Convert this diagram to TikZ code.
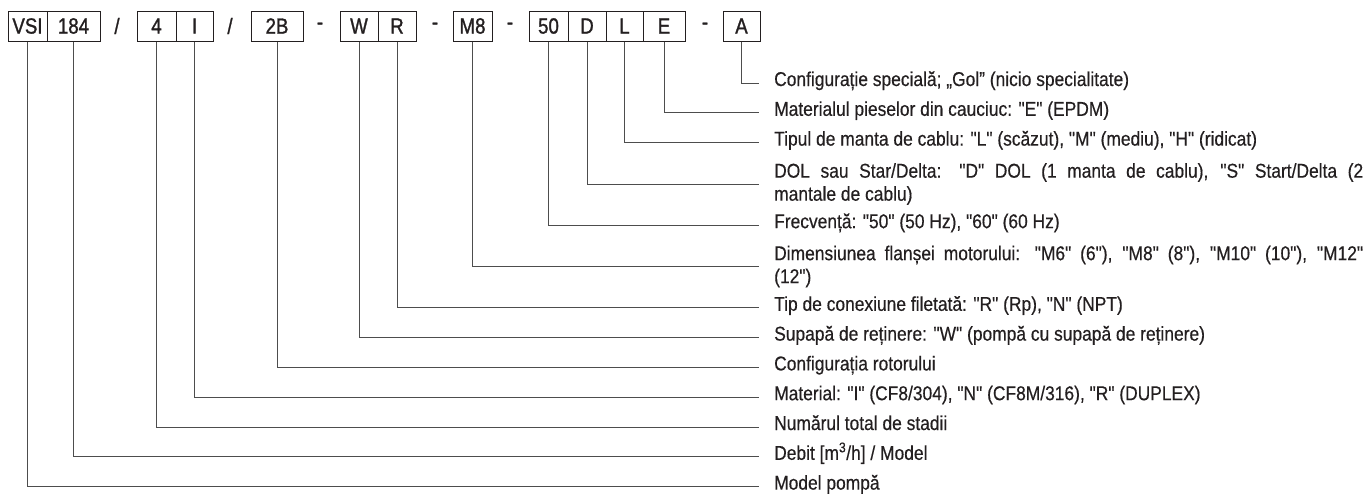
\documentclass[tikz,border=0pt]{standalone}
\usepackage{fontspec}
\setmainfont{Liberation Sans}[Ligatures=TeXOff, FakeStretch=0.87, FakeBold=0.4]
\newfontfamily\codefont{Liberation Sans}[Ligatures=TeXOff, FakeStretch=0.85, FakeBold=1.2]
\definecolor{ink}{HTML}{231F20}
\definecolor{linec}{HTML}{4D4D4D}
\tikzset{
  box/.style={draw=ink, line width=1pt, inner sep=0pt, minimum height=30pt, text=ink, font=\codefont\fontsize{22}{24}\selectfont},
  sepmark/.style={inner sep=0pt, text=ink, font=\codefont\fontsize{22}{24}\selectfont},
  conn/.style={draw=linec, line width=1pt},
  lab/.style={anchor=west, inner sep=0pt, text=ink, font=\fontsize{20}{23}\selectfont, text height=0.8em, text depth=0.2em},
  labtwo/.style={anchor=west, inner sep=0pt, text=ink, font=\fontsize{20}{23}\selectfont, text width=589pt, align=justify}
}
\begin{document}
\begin{tikzpicture}[x=1pt,y=-1pt]
\useasboundingbox (0,0) rectangle (1366,499);
% code boxes
\node[box, minimum width=39pt] (bVSI) at (27.5,26) {VSI};
\node[box, minimum width=53pt] (b184) at (73.5,26) {184};
\node[sepmark] (s1) at (117,26) {/};
\node[box, minimum width=39pt] (b4) at (156.5,26) {4};
\node[box, minimum width=37pt] (bI) at (194.5,26) {I};
\node[sepmark] (s2) at (230,26) {/};
\node[box, minimum width=52pt] (b2B) at (277,26) {2B};
\node[sepmark] (s3) at (320,26) {-};
\node[box, minimum width=38pt] (bW) at (359,26) {W};
\node[box, minimum width=38pt] (bR) at (397,26) {R};
\node[sepmark] (s4) at (435,26) {-};
\node[box, minimum width=39pt] (bM8) at (472.5,26) {M8};
\node[sepmark] (s5) at (510,26) {-};
\node[box, minimum width=39pt] (b50) at (548.5,26) {50};
\node[box, minimum width=38pt] (bD) at (587,26) {D};
\node[box, minimum width=37pt] (bL) at (624.5,26) {L};
\node[box, minimum width=42pt] (bE) at (664,26) {E};
\node[sepmark] (s6) at (705,26) {-};
\node[box, minimum width=37pt] (bA) at (741.5,26) {A};
% labels
\node[lab] (lA) at (774,83) {Configurație specială; „Gol” (nicio specialitate)};
\node[lab] (lE) at (774,112.8) {Materialul pieselor din cauciuc: "E" (EPDM)};
\node[lab] (lL) at (774,142.6) {Tipul de manta de cablu: "L" (scăzut), "M" (mediu), "H" (ridicat)};
\node[labtwo] (lD) at (774,184) {DOL sau Star/Delta: "D" DOL (1 manta de cablu), "S" Start/Delta (2\linebreak mantale de cablu)};
\node[lab] (l50) at (774,225.2) {Frecvență: "50" (50 Hz), "60" (60 Hz)};
\node[labtwo] (lM8) at (774,266.5) {Dimensiunea flanșei motorului: "M6" (6"), "M8" (8"), "M10" (10"), "M12"\linebreak (12")};
\node[lab] (lR) at (774,307.8) {Tip de conexiune filetată: "R" (Rp), "N" (NPT)};
\node[lab] (lW) at (774,337.6) {Supapă de reținere: "W" (pompă cu supapă de reținere)};
\node[lab] (l2B) at (774,367.4) {Configurația rotorului};
\node[lab] (lI) at (774,397.2) {Material: "I" (CF8/304), "N" (CF8M/316), "R" (DUPLEX)};
\node[lab] (l4) at (774,427) {Numărul total de stadii};
\node[lab] (l184) at (774,456.8) {Debit [m\textsuperscript{3}/h] / Model};
\node[lab] (lVSI) at (774,486.6) {Model pompă};
% connectors
\foreach \b/\l in {A/A,E/E,L/L,D/D,50/50,M8/M8,R/R,W/W,2B/2B,I/I,4/4,184/184,VSI/VSI}
  \draw[conn] (b\b.south) |- ([xshift=-15pt]l\l.west);
\end{tikzpicture}
\end{document}
